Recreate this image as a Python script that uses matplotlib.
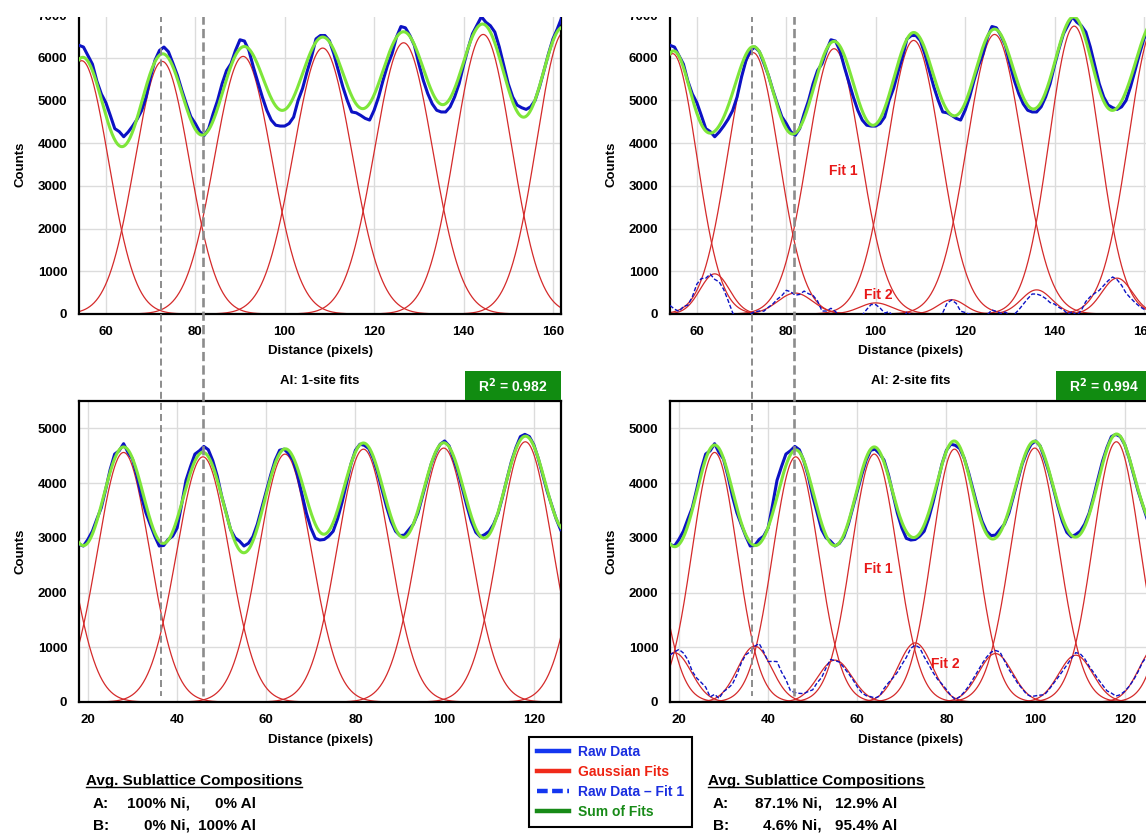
import numpy as np
import matplotlib
matplotlib.use('Agg')
import matplotlib.pyplot as plt
from matplotlib.lines import Line2D
from matplotlib.patches import Rectangle

plt.rcParams['font.family'] = ['Liberation Sans', 'DejaVu Sans']
plt.rcParams['font.weight'] = 'bold'

# ---------------- data ----------------
top_x = np.arange(54, 163)
top_raw = [6290, 6250, 6050, 5850, 5450, 5150, 4950, 4650, 4340, 4270,
           4150, 4260, 4400, 4560, 4760, 5080, 5550, 5940, 6170, 6250,
           6140, 5870, 5590, 5240, 4920, 4620, 4460, 4270, 4180, 4340,
           4690, 5000, 5390, 5700, 5860, 6170, 6420, 6390, 6170, 5780,
           5430, 5080, 4770, 4540, 4420, 4400, 4400, 4460, 4610, 5000,
           5280, 5670, 6020, 6440, 6520, 6520, 6400, 6090, 5700, 5320,
           5000, 4730, 4710, 4650, 4580, 4540, 4770, 5080, 5470, 5820,
           6090, 6480, 6730, 6700, 6520, 6290, 5860, 5470, 5160, 4920,
           4770, 4730, 4730, 4850, 5080, 5390, 5820, 6210, 6560, 6760,
           6960, 6830, 6750, 6600, 6250, 5820, 5390, 5080, 4890, 4830,
           4790, 4850, 5000, 5320, 5700, 6090, 6440, 6680, 6950]

bot_x = np.arange(18, 127)
bot_raw = [2880, 2850, 2970, 3120, 3340, 3550, 3890, 4250, 4530, 4590,
           4720, 4560, 4440, 4130, 3760, 3460, 3240, 3030, 2850, 2860,
           2970, 3030, 3180, 3600, 4050, 4300, 4530, 4590, 4670, 4610,
           4410, 4130, 3760, 3460, 3150, 3000, 2940, 2850, 2900, 3020,
           3250, 3550, 3850, 4150, 4420, 4600, 4620, 4540, 4420, 4150,
           3800, 3450, 3180, 2990, 2960, 2970, 3030, 3120, 3350, 3650,
           4000, 4350, 4600, 4710, 4690, 4630, 4450, 4180, 3870, 3560,
           3300, 3120, 3040, 3050, 3150, 3250, 3450, 3750, 4050, 4350,
           4560, 4710, 4770, 4680, 4450, 4200, 3900, 3580, 3300, 3100,
           3020, 3060, 3120, 3250, 3450, 3750, 4080, 4400, 4650, 4850,
           4890, 4850, 4700, 4450, 4150, 3850, 3600, 3350, 3150]

# top panels, 1-site fits
top1_centers = [54.6, 72.6, 90.7, 108.5, 126.6, 144.4, 162.5]
top1_amps = [5930, 5914, 6031, 6226, 6350, 6545, 6600]
top1_sigmas = [6.0, 6.1, 6.4, 6.55, 6.5, 6.3, 6.2]

# top panels, 2-site fits
top2_fit1_centers = [54.6, 72.6, 90.7, 108.5, 126.6, 144.4, 162.5]
top2_fit1_amps = [6095, 6118, 6211, 6405, 6545, 6739, 6760]
top2_fit1_sigmas = [5.4, 5.75, 5.95, 6.0, 6.2, 5.6, 5.95]
top2_fit2_centers = [64, 82, 100, 117, 136, 154]
top2_fit2_amps = [940, 490, 260, 335, 565, 840]
top2_fit2_sigmas = [3.3, 3.9, 3.6, 3.0, 3.4, 3.4]

# bottom panels, 1-site fits
bot1_centers = [10, 28, 45.8, 64.2, 81.8, 99.8, 118.1, 136]
bot1_amps = [4500, 4560, 4480, 4530, 4620, 4640, 4755, 4700]
bot1_sigmas = [6.0, 5.85, 5.95, 5.95, 5.95, 6.05, 6.05, 6.0]

# bottom panels, 2-site fits
bot2_fit1_centers = [10, 28, 46.2, 63.8, 81.8, 99.8, 118.1, 136]
bot2_fit1_amps = [4500, 4560, 4480, 4530, 4620, 4640, 4755, 4700]
bot2_fit1_sigmas = [5.2, 5.05, 5.15, 5.15, 5.05, 5.4, 5.27, 5.2]
bot2_fit2_centers = [19, 37, 55, 73, 91, 109, 127]
bot2_fit2_amps = [900, 1020, 765, 1080, 885, 855, 1010]
bot2_fit2_sigmas = [3.8, 3.8, 3.8, 3.8, 3.8, 3.8, 3.8]

top_xlim = (54, 161.8)
bot_xlim = (18, 126.1)
marker_x_top = [72.4, 81.8]       # vertical dashed guides (top-panel units)

r2_values = ['0.982', '0.994']
panel_titles = ['Al: 1-site fits', 'Al: 2-site fits']
comp_left = [('A:', '100% Ni,', '0% Al'), ('B:', '0% Ni,', '100% Al')]
comp_right = [('A:', '87.1% Ni,', '12.9% Al'), ('B:', '4.6% Ni,', '95.4% Al')]
legend_labels = ['Raw Data', 'Gaussian Fits', 'Raw Data \u2013 Fit 1', 'Sum of Fits']

# ---------------- style ----------------
C_RAW = '#0c12c4'
C_FIT = '#d42a2a'
C_SUM = '#7ee63a'
C_GRID = '#dcdcdc'
C_BOX = '#118c11'
FS = 9.5

W, H = 1146, 836
fig = plt.figure(figsize=(W / 100, H / 100), dpi=100)


def ax_rect(l, t, r, b):
    return [l / W, 1 - b / H, (r - l) / W, (b - t) / H]


ax_tl = fig.add_axes(ax_rect(79, 15, 561, 314))
ax_tr = fig.add_axes(ax_rect(670, 15, 1152, 314))
ax_bl = fig.add_axes(ax_rect(79, 401, 561, 702))
ax_br = fig.add_axes(ax_rect(670, 401, 1152, 702))


def gauss(x, a, c, s):
    return a * np.exp(-(x - c) ** 2 / (2 * s ** 2))


def style_axes(ax, xlim, ylim, xticks, yticks):
    ax.set_xlim(*xlim)
    ax.set_ylim(*ylim)
    ax.set_xticks(xticks)
    ax.set_yticks(yticks)
    ax.grid(True, color=C_GRID, lw=1.0)
    ax.set_axisbelow(True)
    for sp in ax.spines.values():
        sp.set_linewidth(1.6)
        sp.set_color('black')
    ax.tick_params(length=0, pad=8.5, labelsize=FS)
    for lab in ax.get_xticklabels() + ax.get_yticklabels():
        lab.set_fontweight('bold')
    ax.set_xlabel('Distance (pixels)', fontsize=FS, fontweight='bold')
    ax.set_ylabel('Counts', fontsize=FS, fontweight='bold')
    ax.xaxis.set_label_coords(0.5, -0.125)
    ax.yaxis.set_label_coords(-0.122, 0.5)
    ax.xaxis.label.set_va('center')
    ax.yaxis.label.set_va('center')


def draw_panel(ax, x_raw, raw, xlim, fit1, fit2=None):
    xf = np.linspace(xlim[0] - 1, xlim[1] + 1, 900)
    total = np.zeros_like(xf)
    fit1_on_raw = np.zeros(len(x_raw))
    for c, a, s in zip(*fit1):
        y = gauss(xf, a, c, s)
        total += y
        fit1_on_raw += gauss(x_raw, a, c, s)
        ax.plot(xf, y, color=C_FIT, lw=0.9, zorder=2)
    if fit2 is not None:
        for c, a, s in zip(*fit2):
            y = gauss(xf, a, c, s)
            total += y
            ax.plot(xf, y, color=C_FIT, lw=0.9, zorder=2)
        resid = np.asarray(raw) - fit1_on_raw
        ax.plot(x_raw, resid, color=C_RAW, lw=1.0, ls=(0, (3, 1.5)), zorder=3)
    ax.plot(x_raw, raw, color=C_RAW, lw=2.2, zorder=4)
    ax.plot(xf, total, color=C_SUM, lw=2.2, zorder=5)


draw_panel(ax_tl, top_x, top_raw, top_xlim, (top1_centers, top1_amps, top1_sigmas))
draw_panel(ax_tr, top_x, top_raw, top_xlim,
           (top2_fit1_centers, top2_fit1_amps, top2_fit1_sigmas),
           (top2_fit2_centers, top2_fit2_amps, top2_fit2_sigmas))
draw_panel(ax_bl, bot_x, bot_raw, bot_xlim, (bot1_centers, bot1_amps, bot1_sigmas))
draw_panel(ax_br, bot_x, bot_raw, bot_xlim,
           (bot2_fit1_centers, bot2_fit1_amps, bot2_fit1_sigmas),
           (bot2_fit2_centers, bot2_fit2_amps, bot2_fit2_sigmas))

for ax in (ax_tl, ax_tr):
    style_axes(ax, top_xlim, (0, 7000), range(60, 161, 20), range(0, 7001, 1000))
for ax in (ax_bl, ax_br):
    style_axes(ax, bot_xlim, (0, 5500), range(20, 121, 20), range(0, 5001, 1000))

# Fit labels
fit_kw = dict(color='#e81818', fontsize=10, fontweight='bold', ha='center', va='center', zorder=6)
ax_tr.text(92.8, 3350, 'Fit 1', **fit_kw)
ax_tr.text(100.5, 450, 'Fit 2', **fit_kw)
ax_br.text(64.7, 2430, 'Fit 1', **fit_kw)
ax_br.text(79.8, 690, 'Fit 2', **fit_kw)

# titles and R^2 boxes above bottom panels
for ax, title, r2 in ((ax_bl, panel_titles[0], r2_values[0]), (ax_br, panel_titles[1], r2_values[1])):
    ax.text(0.5, 1.066, title, transform=ax.transAxes, ha='center', va='center',
            fontsize=FS, fontweight='bold')
    ax.add_patch(Rectangle((0.801, 1.003), 0.199, 0.097, transform=ax.transAxes,
                           facecolor=C_BOX, edgecolor='none', clip_on=False, zorder=6))
    ax.text(0.9005, 1.052, 'R$^2$ = ' + r2, transform=ax.transAxes, ha='center', va='center',
            color='white', fontsize=10, fontweight='bold', zorder=7)

# vertical dashed guide lines across panels
y_top = 1 - 15 / H
y_bot = 1 - 696 / H
dash_styles = [dict(lw=1.4, ls=(0, (3.6, 2.1))), dict(lw=1.9, ls=(0, (3.5, 1.6)))]
for ax in (ax_tl, ax_tr):
    for xd, st in zip(marker_x_top, dash_styles):
        disp = ax.transData.transform((xd, 0))
        fx = fig.transFigure.inverted().transform(disp)[0]
        fig.add_artist(Line2D([fx, fx], [y_top, y_bot], transform=fig.transFigure,
                              color='#8c8c8c', zorder=10, **st))

# legend
handles = [Line2D([], [], color='#1436f0', lw=3.2),
           Line2D([], [], color='#f02a1a', lw=3.2),
           Line2D([], [], color='#1436f0', lw=3.2, ls=(0, (2.4, 1.0))),
           Line2D([], [], color='#178a17', lw=3.2)]
leg = fig.legend(handles, legend_labels, loc='upper left',
                 bbox_to_anchor=(529 / W, 1 - 737 / H), bbox_transform=fig.transFigure,
                 borderaxespad=0,
                 frameon=True, fancybox=False, edgecolor='black', framealpha=1,
                 handlelength=2.3, handletextpad=0.6, labelspacing=0.42, borderpad=0.6,
                 prop={'weight': 'bold', 'size': 10})
leg.get_frame().set_linewidth(1.5)
for t, c in zip(leg.get_texts(), ['#1a2ee0', '#ee2211', '#1a2ee0', '#178a17']):
    t.set_color(c)

# composition texts
CFS = 11
head_l = fig.text(86 / W, 1 - 781 / H, 'Avg. Sublattice Compositions', fontsize=CFS,
                  fontweight='bold', va='center', ha='left')
head_r = fig.text(708 / W, 1 - 781 / H, 'Avg. Sublattice Compositions', fontsize=CFS,
                  fontweight='bold', va='center', ha='left')


def comp_rows(rows, x_lab, x_c1, x_c2):
    for (lab, c1, c2), ypx in zip(rows, (804, 826)):
        yy = 1 - ypx / H
        fig.text(x_lab / W, yy, lab, fontsize=CFS, fontweight='bold', va='center', ha='left')
        fig.text(x_c1 / W, yy, c1, fontsize=CFS, fontweight='bold', va='center', ha='right')
        fig.text(x_c2 / W, yy, c2, fontsize=CFS, fontweight='bold', va='center', ha='right')


comp_rows(comp_left, 93, 190, 256)
comp_rows(comp_right, 713, 822, 897)

# underline the headings
fig.canvas.draw()
rend = fig.canvas.get_renderer()
inv = fig.transFigure.inverted()
for t in (head_l, head_r):
    bb = t.get_window_extent(rend)
    (x0, y0), (x1, y1) = inv.transform([(bb.x0, bb.y0), (bb.x1, bb.y0)])
    fig.add_artist(Line2D([x0, x1], [y0 + 1.5 / H, y0 + 1.5 / H], transform=fig.transFigure,
                          color='black', lw=1.0))

# cropped top edge of the original image
fig.add_artist(Rectangle((0, 1 - 16.5 / H), 1, 16.5 / H, transform=fig.transFigure,
                         facecolor='white', edgecolor='none', zorder=1000))

fig.savefig('out.png', dpi=100)
